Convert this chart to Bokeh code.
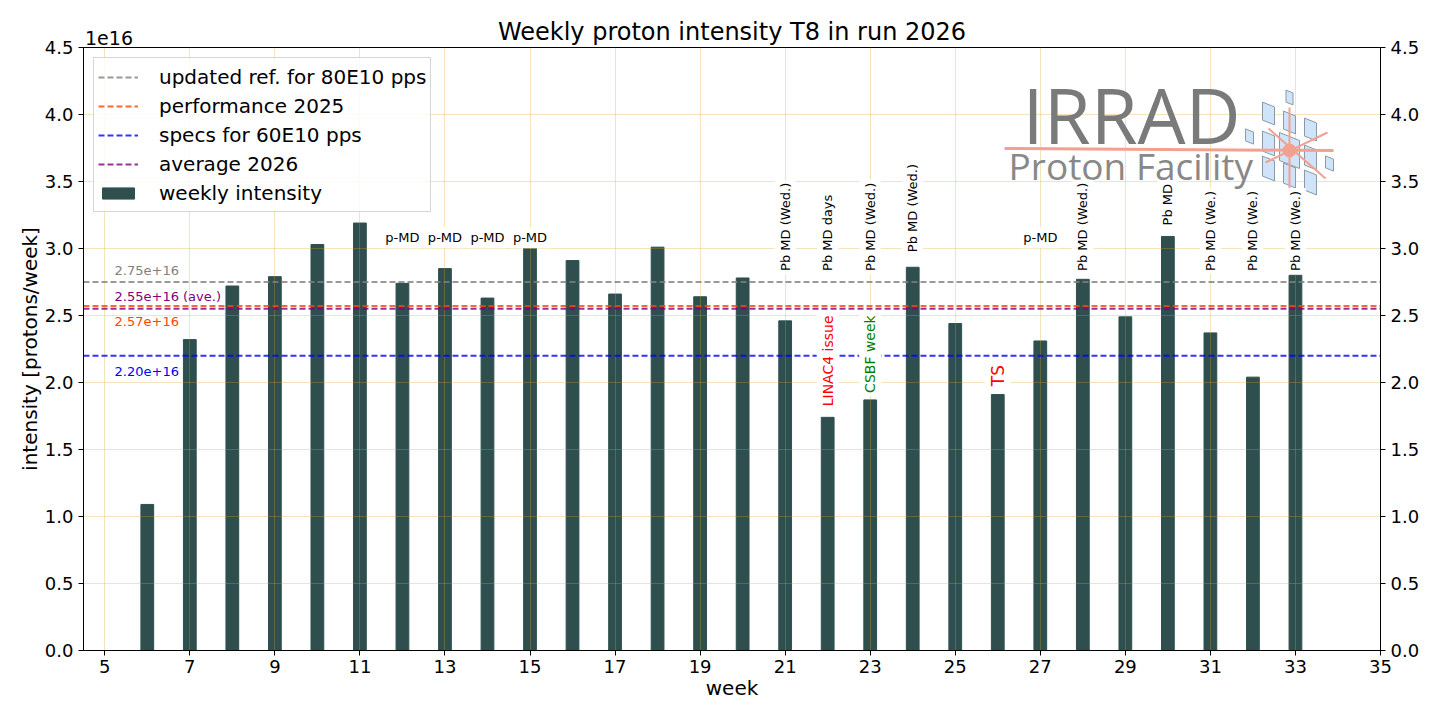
import math

from bokeh.core.properties import value
from bokeh.embed import file_html
from bokeh.models import (FixedTicker, Legend, LegendItem, LinearAxis,
                          NumeralTickFormatter, Range1d)
from bokeh.plotting import figure
from bokeh.resources import INLINE

# weekly intensity in units of 1e16 protons/week
weeks = list(range(6, 34))
intensity = [1.09, 2.32, 2.72, 2.79, 3.03, 3.19, 2.74, 2.85, 2.63, 3.01,
             2.91, 2.66, 3.01, 2.64, 2.78, 2.46, 1.74, 1.87, 2.86, 2.44,
             1.91, 2.31, 2.77, 2.49, 3.09, 2.37, 2.04, 2.80]

ref_names = ['updated ref. for 80E10 pps', 'performance 2025',
             'specs for 60E10 pps', 'average 2026']
ref_values = [2.75, 2.57, 2.20, 2.55]
ref_colors = ['gray', 'orangered', 'blue', 'purple']
ref_texts = ['2.75e+16', '2.57e+16', '2.20e+16', '2.55e+16 (ave.)']

pmd_weeks = [12, 13, 14, 15, 27]
pmd_y = [3.08, 3.08, 3.08, 3.08, 3.08]

pb_weeks = [21, 22, 23, 24, 28, 30, 31, 32, 33]
pb_texts = ['Pb MD (Wed.)', 'Pb MD days', 'Pb MD (Wed.)', 'Pb MD (Wed.)',
            'Pb MD (Wed.)', 'Pb MD', 'Pb MD (We.)', 'Pb MD (We.)', 'Pb MD (We.)']
pb_y = [2.84, 2.84, 2.84, 2.98, 2.84, 3.18, 2.84, 2.84, 2.84]

issue_weeks = [22, 23, 26]
issue_texts = ['LINAC4 issue', 'CSBF week', 'TS']
issue_colors = ['red', 'green', 'red']
issue_sizes = ['14px', '14px', '17px']
issue_y = [1.83, 1.93, 1.98]

x_ticks = list(range(5, 36, 2))
y_ticks = [0.0, 0.5, 1.0, 1.5, 2.0, 2.5, 3.0, 3.5, 4.0, 4.5]

TITLE = 'Weekly proton intensity T8 in run 2026'
X0, X1 = 4.5, 35
Y0, Y1 = 0, 4.5
FONT = 'DejaVu Sans'

p = figure(
    width=1424, height=704,
    x_range=Range1d(X0, X1), y_range=Range1d(Y0, Y1),
    title=None,
    x_axis_label='week', y_axis_label='intensity [protons/week]',
    output_backend='svg', toolbar_location=None,
    min_border_left=83, min_border_right=44, min_border_top=47, min_border_bottom=54,
)
p.outline_line_color = 'black'
p.outline_line_alpha = 1

p.add_layout(LinearAxis(), 'right')
for ax in p.axis:
    ax.major_label_text_font = FONT
    ax.major_label_text_font_size = '18px'
    ax.major_label_text_color = 'black'
    ax.axis_label_text_font = FONT
    ax.axis_label_text_font_size = '20px'
    ax.axis_label_text_font_style = 'normal'
    ax.axis_label_text_color = 'black'
    ax.axis_line_color = 'black'
    ax.major_tick_line_color = 'black'
    ax.major_tick_in = 0
    ax.major_tick_out = 5
    ax.minor_tick_line_color = None
    ax.major_label_standoff = 5
for ax in p.yaxis:
    ax.ticker = FixedTicker(ticks=y_ticks)
    ax.formatter = NumeralTickFormatter(format='0.0')
p.xaxis.ticker = FixedTicker(ticks=x_ticks)
p.xaxis.major_label_standoff = 4
p.xaxis.axis_label_standoff = 0
p.yaxis[0].axis_label_standoff = 0

p.xgrid.ticker = FixedTicker(ticks=x_ticks)
p.ygrid.ticker = FixedTicker(ticks=y_ticks)
p.grid.grid_line_color = 'goldenrod'
p.grid.grid_line_alpha = 0.3

bars = p.vbar(x=weeks, top=intensity, width=0.3, color='darkslategray', level='image')

# IRRAD logo, laid out in reference pixels and mapped into the data frame
FL, FR, FT, FB = 83, 1380, 47, 650


def px(x, y):
    return X0 + (x - FL) * (X1 - X0) / (FR - FL), Y1 - (y - FT) * (Y1 - Y0) / (FB - FT)


tiles = [(1289, 97, 7, 12), (1268, 113, 12, 18), (1289, 122, 12, 18), (1310, 129, 12, 18),
         (1249, 136, 8, 12), (1268, 143, 12, 20), (1289, 150, 20, 28), (1310, 157, 12, 20),
         (1329, 163, 8, 12), (1268, 168, 12, 20), (1289, 175, 12, 20), (1310, 182, 12, 20),
         (1289, 197, 8, 12)]
txs, tys = [], []
for cx, cy, w, h in tiles:
    k = 0.2 * w
    pts = [px(cx - w / 2, cy - h / 2 - k), px(cx + w / 2, cy - h / 2 + k),
           px(cx + w / 2, cy + h / 2 + k), px(cx - w / 2, cy + h / 2 - k)]
    txs.append([q[0] for q in pts])
    tys.append([q[1] for q in pts])
p.patches(txs, tys, fill_color='#cfe4f8', line_color='#8a9aaa', line_width=1)
for (ax_, ay_), (bx_, by_), lw in [((1004, 148), (1333, 150), 3), ((1289, 107), (1289, 192), 2),
                                   ((1268, 128), (1325, 178), 2), ((1265, 162), (1327, 132), 2)]:
    a, b = px(ax_, ay_), px(bx_, by_)
    p.line([a[0], b[0]], [a[1], b[1]], line_color='#f4a090', line_width=lw)
c = px(1289, 150)
p.scatter([c[0]], [c[1]], size=13, color='#f4a090')
t1, t2 = px(1022, 145 - 31), px(1008, 181 - 16)
p.text([t1[0]], [t1[1]], text=['IRRAD'], text_font=value('Open Sans'), text_font_size='76px',
       text_baseline='middle', text_color='#7a7a7a')
p.text([t2[0]], [t2[1]], text=['Proton Facility'], text_font=value('Open Sans'),
       text_font_size='37px', text_baseline='middle', text_color='#888888')

# reference lines
ref_lines = []
for v, col in zip(ref_values, ref_colors):
    ref_lines.append(p.line([X0, X1], [v, v], line_color=col, line_alpha=0.8,
                            line_width=2, line_dash='6 3'))
label_offsets = [-12, 15, 16, -12]
for v, col, t, off in zip(ref_values, ref_colors, ref_texts, label_offsets):
    p.text([5.23], [v], text=[t], text_color=col, text_font=value(FONT), text_font_size='13px',
           text_baseline='middle', y_offset=off)

# annotations
box = dict(background_fill_color='white', padding=3)
p.text(pmd_weeks, pmd_y, text=['p-MD'] * len(pmd_weeks), text_font=value(FONT),
       text_font_size='13px', text_align='center', text_baseline='middle', **box)
p.text(pb_weeks, pb_y, text=pb_texts, angle=math.pi / 2, text_font=value(FONT),
       text_font_size='13px', text_align='left', text_baseline='middle', y_offset=4, **box)
p.text(issue_weeks, issue_y, text=issue_texts, angle=math.pi / 2, text_color=issue_colors,
       text_font=value(FONT), text_font_size=issue_sizes, text_align='left',
       text_baseline='middle', y_offset=4, **box)

legend = Legend(
    items=[LegendItem(label=n, renderers=[r]) for n, r in zip(ref_names, ref_lines)]
    + [LegendItem(label='weekly intensity', renderers=[bars])],
    location='top_left', margin=10, padding=4, spacing=0,
    label_height=29, glyph_height=14, glyph_width=40, label_standoff=21,
    label_text_font=FONT, label_text_font_size='20px', label_text_color='black',
    background_fill_alpha=0.8, border_line_color='#cccccc', border_line_alpha=0.8,
)
p.add_layout(legend, 'center')

# title and the 1e16 offset text share the band above the frame
offset_x = 5.1
top = LinearAxis(
    ticker=FixedTicker(ticks=[offset_x]), major_label_overrides={offset_x: '1e16'},
    axis_label=TITLE, axis_line_color=None, major_tick_line_color=None,
    minor_tick_line_color=None, major_tick_out=0, major_tick_in=0,
    major_label_standoff=3, axis_label_standoff=-18,
    major_label_text_font=FONT, major_label_text_font_size='19px', major_label_text_color='black',
    axis_label_text_font=FONT, axis_label_text_font_size='24px',
    axis_label_text_font_style='normal', axis_label_text_color='black',
)
p.add_layout(top, 'above')

open('out.html', 'w').write(file_html(p, INLINE))
